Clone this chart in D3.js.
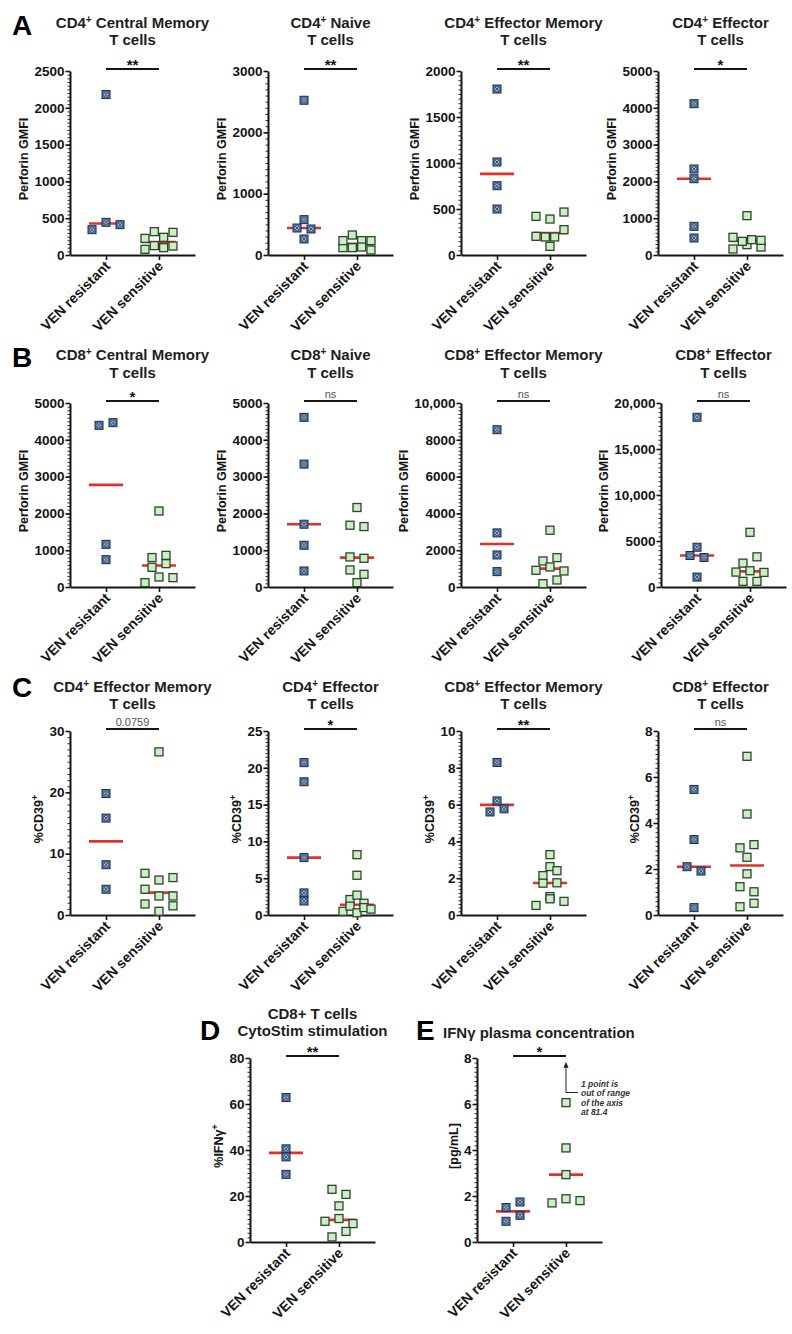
<!DOCTYPE html>
<html><head><meta charset="utf-8">
<script src="https://cdn.jsdelivr.net/npm/d3@7"></script>
<style>
body{margin:0;background:#fff}
svg{display:block}
text{font-family:"Liberation Sans",Arial,Helvetica,sans-serif}
</style>
</head><body>
<svg id="c" width="792" height="1334"></svg>
<script>
// ---------- data ----------
const groups = ["VEN resistant", "VEN sensitive"];

const titleA1 = ["CD4|+| Central Memory", "T cells"];
const titleA2 = ["CD4|+| Naive", "T cells"];
const titleA3 = ["CD4|+| Effector Memory", "T cells"];
const titleA4 = ["CD4|+| Effector", "T cells"];
const titleB1 = ["CD8|+| Central Memory", "T cells"];
const titleB2 = ["CD8|+| Naive", "T cells"];
const titleB3 = ["CD8|+| Effector Memory", "T cells"];
const titleB4 = ["CD8|+| Effector", "T cells"];
const titleC1 = ["CD4|+| Effector Memory", "T cells"];
const titleC2 = ["CD4|+| Effector", "T cells"];
const titleC3 = ["CD8|+| Effector Memory", "T cells"];
const titleC4 = ["CD8|+| Effector", "T cells"];
const titleD = ["CD8+ T cells", "CytoStim stimulation"];
const titleE = ["IFNγ plasma concentration"];

const yLabPerforin = "Perforin GMFI";
const yLabCD39 = "%CD39|+";
const yLabIFN = "%IFNγ|+";
const yLabPlasma = "[pg/mL]";

const ticksA1 = [0, 500, 1000, 1500, 2000, 2500];
const ticksA2 = [0, 1000, 2000, 3000];
const ticksA3 = [0, 500, 1000, 1500, 2000];
const ticksA4 = [0, 1000, 2000, 3000, 4000, 5000];
const ticksB1 = [0, 1000, 2000, 3000, 4000, 5000];
const ticksB2 = [0, 1000, 2000, 3000, 4000, 5000];
const ticksB3 = [0, 2000, 4000, 6000, 8000, 10000];
const ticksB4 = [0, 5000, 10000, 15000, 20000];
const ticksC1 = [0, 10, 20, 30];
const ticksC2 = [0, 5, 10, 15, 20, 25];
const ticksC3 = [0, 2, 4, 6, 8, 10];
const ticksC4 = [0, 2, 4, 6, 8];
const ticksD = [0, 20, 40, 60, 80];
const ticksE = [0, 2, 4, 6, 8];

const sigLabels = ["**", "**", "**", "*", "*", "ns", "ns", "ns", "0.0759", "*", "**", "ns", "**", "*"];

const A1_res = [344, 444, 412, 2180];
const A1_sen = [77, 127, 100, 122, 226, 317, 240, 308];
const A2_res = [2523, 576, 440, 424, 261];
const A2_sen = [120, 234, 326, 120, 234, 130, 234, 82];
const A3_res = [1804, 1011, 753, 500];
const A3_sen = [420, 391, 467, 203, 196, 196, 275, 94];
const A4_res = [4112, 2337, 2073, 779, 462];
const A4_sen = [163, 281, 217, 480, 371, 417, 398, 1069];
const B1_res = [4393, 4466, 1159, 743];
const B1_sen = [118, 272, 254, 534, 634, 800, 860, 2065];
const B2_res = [4610, 3340, 1706, 1134, 436];
const B2_sen = [2160, 1679, 1642, 817, 780, 463, 345, 118];
const B3_res = [8548, 2940, 1742, 835];
const B3_sen = [3085, 1416, 1597, 907, 1089, 871, 181, 381];
const B4_res = [18450, 4324, 3423, 3207, 1081];
const B4_sen = [5946, 2595, 3279, 1622, 1766, 1586, 613, 613];
const C1_res = [19.8, 15.8, 8.2, 4.2];
const C1_sen = [26.6, 6.8, 5.7, 6.1, 4.2, 3.1, 3.1, 1.8, 0.6, 1.5];
const C2_res = [20.7, 18.1, 7.8, 3.0, 1.9];
const C2_sen = [8.2, 5.4, 2.1, 2.7, 1.6, 0.5, 1.2, 0.3, 1.0, 0.8];
const C3_res = [8.29, 6.2, 5.6, 5.77];
const C3_sen = [3.28, 2.63, 2.14, 2.41, 1.73, 1.75, 1.0, 0.52, 0.88, 0.74];
const C4_res = [5.46, 3.28, 2.1, 1.91, 0.32];
const C4_sen = [6.9, 4.39, 2.92, 3.06, 2.51, 1.79, 1.23, 1.01, 0.36, 0.51];
const D_res = [62.8, 40.5, 37.0, 29.4];
const D_sen = [22.9, 20.7, 15.7, 9.0, 10.2, 8.0, 2.2, 4.6];
const E_res = [1.5, 0.9, 1.74, 1.16];
const E_sen = [6.06, 4.09, 2.93, 1.70, 1.88, 1.80, 81.4];

// ---------- layout ----------
const colX = [70, 268, 461, 658];
const rows = {
  A: {top: 71, zero: 255, t1: 27.5, t2: 44.5},
  B: {top: 403, zero: 587, t1: 359.5, t2: 377.5},
  C: {top: 731, zero: 915, t1: 691.5, t2: 708.5},
  D: {top: 1058, zero: 1242, t1: 1018.5, t2: 1035.5}
};
const panels = [
  {row: "A", x: colX[0], title: titleA1, ylab: yLabPerforin, ticks: ticksA1, res: A1_res, sen: A1_sen},
  {row: "A", x: colX[1], title: titleA2, ylab: yLabPerforin, ticks: ticksA2, res: A2_res, sen: A2_sen},
  {row: "A", x: colX[2], title: titleA3, ylab: yLabPerforin, ticks: ticksA3, res: A3_res, sen: A3_sen},
  {row: "A", x: colX[3], title: titleA4, ylab: yLabPerforin, ticks: ticksA4, res: A4_res, sen: A4_sen},
  {row: "B", x: colX[0], title: titleB1, ylab: yLabPerforin, ticks: ticksB1, res: B1_res, sen: B1_sen},
  {row: "B", x: colX[1], title: titleB2, ylab: yLabPerforin, ticks: ticksB2, res: B2_res, sen: B2_sen},
  {row: "B", x: colX[2], title: titleB3, ylab: yLabPerforin, ticks: ticksB3, res: B3_res, sen: B3_sen},
  {row: "B", x: colX[3] + 3, title: titleB4, ylab: yLabPerforin, ticks: ticksB4, res: B4_res, sen: B4_sen},
  {row: "C", x: colX[0], title: titleC1, ylab: yLabCD39, ticks: ticksC1, res: C1_res, sen: C1_sen},
  {row: "C", x: colX[1], title: titleC2, ylab: yLabCD39, ticks: ticksC2, res: C2_res, sen: C2_sen},
  {row: "C", x: colX[2], title: titleC3, ylab: yLabCD39, ticks: ticksC3, res: C3_res, sen: C3_sen},
  {row: "C", x: colX[3], title: titleC4, ylab: yLabCD39, ticks: ticksC4, res: C4_res, sen: C4_sen},
  {row: "D", x: 250, title: titleD, ylab: yLabIFN, ticks: ticksD, res: D_res, sen: D_sen},
  {row: "D", x: 477, title: titleE, ylab: yLabPlasma, ticks: ticksE, res: E_res, sen: E_sen, leftTitle: 443}
];
panels.forEach((p, i) => p.sig = sigLabels[i]);

const PW = 125;
const SYM = 8;
const RED = "#e3302b";
const INK = "#141414";

const svg = d3.select("#c");

function richText(sel, str, supSize) {
  const parts = str.split("|");
  parts.forEach((s, i) => {
    if (i % 2 === 1) {
      sel.append("tspan").attr("dy", -5).attr("font-size", supSize).text(s);
    } else {
      const t = sel.append("tspan").text(s);
      if (i > 0) t.attr("dy", 5);
    }
  });
}

function swarm(values, y) {
  const idx = values.map((v, i) => i).sort((a, b) => values[a] - values[b]);
  const grs = []; let cur = [];
  idx.forEach(i => {
    if (cur.length && Math.abs(y(values[cur[0]]) - y(values[i])) >= 7.5) { grs.push(cur); cur = []; }
    cur.push(i);
  });
  if (cur.length) grs.push(cur);
  const off = values.map(() => 0);
  grs.forEach(g => {
    g.sort((a, b) => a - b);
    const n = g.length;
    if (n < 2) return;
    const step = n === 2 ? 14 : Math.min(14, 28 / (n - 1));
    g.forEach((i, k) => off[i] = (k - (n - 1) / 2) * step);
  });
  return off;
}

const fmt = v => v >= 10000 ? d3.format(",")(v) : String(v);

function drawPanel(p) {
  const r = rows[p.row];
  const g = svg.append("g");
  const ymax = p.ticks[p.ticks.length - 1];
  const y = d3.scaleLinear().domain([0, ymax]).range([r.zero, r.top]);
  const x = d3.scalePoint().domain(groups).range([p.x, p.x + PW]).padding(0.68);

  // minor ticks
  const step = p.ticks[1] - p.ticks[0];
  const minor = d3.range(0, ymax + step / 20, step / 10);
  g.append("g").attr("transform", `translate(${p.x},0)`)
    .call(d3.axisLeft(y).tickValues(minor).tickSize(2.5).tickFormat(""))
    .call(s => s.select(".domain").remove())
    .call(s => s.selectAll("line").attr("stroke", INK).attr("stroke-width", 0.9));

  // major axis
  const ya = g.append("g").attr("transform", `translate(${p.x},0)`)
    .call(d3.axisLeft(y).tickValues(p.ticks).tickSize(4.5).tickSizeOuter(0).tickPadding(1).tickFormat(fmt));
  ya.select(".domain").attr("stroke", INK).attr("stroke-width", 2);
  ya.selectAll(".tick line").attr("stroke", INK).attr("stroke-width", 1.6);
  ya.selectAll(".tick text").attr("font-size", 13.5).attr("font-weight", 700).attr("fill", INK)
    .attr("font-family", '"Liberation Sans",Arial,sans-serif');
  let maxW = 0;
  ya.selectAll(".tick text").each(function () { maxW = Math.max(maxW, this.getComputedTextLength()); });

  // x axis
  const xa = g.append("g").attr("transform", `translate(0,${r.zero})`)
    .call(d3.axisBottom(x).tickSize(5).tickSizeOuter(0).tickFormat(""));
  xa.select(".domain").attr("stroke", INK).attr("stroke-width", 2);
  xa.selectAll(".tick line").attr("stroke", INK).attr("stroke-width", 1.6);
  groups.forEach(c => {
    g.append("text")
      .attr("transform", `translate(${x(c) + 5},${r.zero + 12}) rotate(-45)`)
      .attr("text-anchor", "end")
      .attr("font-size", 14).attr("font-weight", 700).attr("fill", INK)
      .text(c);
  });

  // y label
  const ly = g.append("text")
    .attr("transform", `translate(${p.x - 6 - maxW - 10 + 4.5},${(r.top + r.zero) / 2 - 4}) rotate(-90)`)
    .attr("text-anchor", "middle").attr("font-size", 12.5).attr("font-weight", 700).attr("fill", INK);
  richText(ly, p.ylab, 9);

  // title
  if (p.leftTitle) {
    g.append("text").attr("x", p.leftTitle).attr("y", r.t2 + 2)
      .attr("font-size", 15).attr("font-weight", 700).attr("fill", "#1e1e1e").text(p.title[0]);
  } else {
    const cx = p.x + PW / 2;
    [r.t1, r.t2].forEach((yb, i) => {
      const t = g.append("text").attr("x", cx).attr("y", yb).attr("text-anchor", "middle")
        .attr("font-size", 15).attr("font-weight", 700).attr("fill", "#1e1e1e");
      richText(t, p.title[i], 10);
    });
  }

  // significance bar
  const by = r.top - 2;
  g.append("line").attr("x1", x(groups[0])).attr("x2", x(groups[1])).attr("y1", by).attr("y2", by)
    .attr("stroke", INK).attr("stroke-width", 2);
  const isStar = /^\*+$/.test(p.sig);
  g.append("text").attr("x", (x(groups[0]) + x(groups[1])) / 2).attr("y", isStar ? by + 1 : by - 3)
    .attr("text-anchor", "middle")
    .attr("font-size", isStar ? 15 : 11).attr("font-weight", isStar ? 700 : 400)
    .attr("fill", isStar ? INK : "#555").text(p.sig);

  // medians
  [p.res, p.sen].forEach((vals, gi) => {
    const m = d3.median(vals);
    const cx = x(groups[gi]);
    g.append("line").attr("x1", cx - 17).attr("x2", cx + 17).attr("y1", y(m)).attr("y2", y(m))
      .attr("stroke", RED).attr("stroke-width", 2.6);
  });

  // points
  const inRange = v => v <= ymax;
  const resV = p.res.filter(inRange), senV = p.sen.filter(inRange);
  const offR = swarm(resV, y), offS = swarm(senV, y);
  resV.forEach((v, i) => {
    const cx = x(groups[0]) + offR[i], cy = y(v);
    const s = g.append("g").attr("transform", `translate(${cx},${cy})`);
    s.append("rect").attr("x", -SYM / 2).attr("y", -SYM / 2).attr("width", SYM).attr("height", SYM)
      .attr("fill", "#4d7db5").attr("stroke", "#1b2c44").attr("stroke-width", 1);
    s.append("circle").attr("r", 2.4).attr("fill", "#b9cde6").attr("stroke", "#1b2c44").attr("stroke-width", 0.5);
    s.append("path").attr("d", "M-1.7,-1.7L1.7,1.7M-1.7,1.7L1.7,-1.7").attr("stroke", "#1b2c44").attr("stroke-width", 0.8);
  });
  senV.forEach((v, i) => {
    const cx = x(groups[1]) + offS[i], cy = y(v);
    g.append("rect").attr("x", cx - SYM / 2).attr("y", cy - SYM / 2).attr("width", SYM).attr("height", SYM)
      .attr("fill", "#c9efc2").attr("stroke", "#2c452c").attr("stroke-width", 1.3);
  });

  // out-of-range annotation
  const out = p.sen.filter(v => !inRange(v));
  if (out.length) {
    const ax = x(groups[1]);
    const y1 = y(ymax * 0.8125), y2 = y(ymax * 0.98);
    g.append("path").attr("d", `M${ax + 12},${y1}H${ax}V${y2 + 5}`)
      .attr("fill", "none").attr("stroke", "#222").attr("stroke-width", 1);
    g.append("path").attr("d", `M${ax},${y2}L${ax - 2.6},${y2 + 6}L${ax + 2.6},${y2 + 6}Z`).attr("fill", "#222");
    const lines = [out.length + " point is", "out of range", "of the axis", "at " + out[0]];
    lines.forEach((t, i) => {
      g.append("text").attr("x", ax + 15).attr("y", y1 - 6 + i * 9.5)
        .attr("font-size", 8.5).attr("font-style", "italic").attr("font-weight", 700)
        .attr("fill", "#333").text(t);
    });
  }
}

panels.forEach(drawPanel);

// panel letters
const letters = [["A", 12, 35], ["B", 12, 367], ["C", 12, 697], ["D", 200, 1040], ["E", 416, 1040]];
letters.forEach(([t, lx, lyy]) => {
  svg.append("text").attr("x", lx).attr("y", lyy).attr("font-size", 28).attr("font-weight", 700)
    .attr("fill", "#000").text(t);
});
</script>
</body></html>
